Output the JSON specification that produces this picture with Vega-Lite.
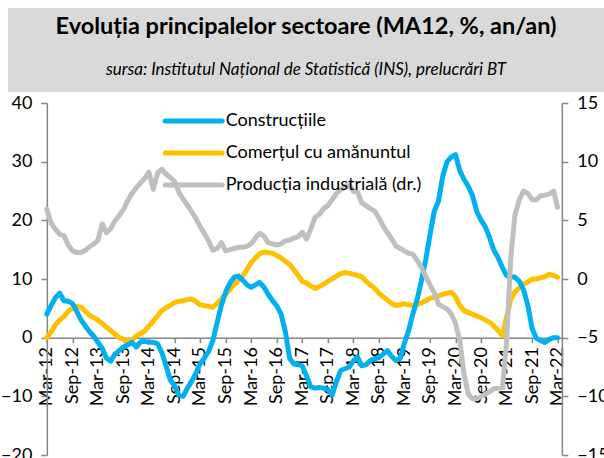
{
  "$schema": "https://vega.github.io/schema/vega-lite/v6.json",
  "padding": {"left": 0, "right": 0, "top": 8, "bottom": 0},
  "background": "white",
  "spacing": 2,
  "columns": 1,
  "center": true,
  "resolve": {"scale": {"color": "independent"}, "legend": {"color": "independent"}},
  "config": {
    "font": "Lato",
    "view": {"stroke": null},
    "axis": {
      "labelFont": "Lato",
      "labelFontSize": 18,
      "labelColor": "#000000",
      "domainColor": "#868686",
      "domainWidth": 1.5,
      "tickColor": "#868686",
      "tickWidth": 1.5,
      "tickSize": 6,
      "grid": false,
      "title": null
    },
    "axisX": {"labelOverlap": false, "labelSeparation": 0}
  },
  "datasets": {
    "t": [
      {"d": "2012/03/01", "c": 4.0, "r": 0.0, "i": 5.95},
      {"d": "2012/04/01", "c": 5.5, "r": 1.0, "i": 4.75},
      {"d": "2012/05/01", "c": 6.8, "r": 2.2, "i": 4.25},
      {"d": "2012/06/01", "c": 7.6, "r": 3.0, "i": 3.8},
      {"d": "2012/07/01", "c": 6.3, "r": 3.6, "i": 3.7},
      {"d": "2012/08/01", "c": 6.2, "r": 4.5, "i": 2.9},
      {"d": "2012/09/01", "c": 5.8, "r": 5.0, "i": 2.4},
      {"d": "2012/10/01", "c": 4.5, "r": 5.3, "i": 2.25},
      {"d": "2012/11/01", "c": 3.0, "r": 5.2, "i": 2.25},
      {"d": "2012/12/01", "c": 2.0, "r": 4.5, "i": 2.45},
      {"d": "2013/01/01", "c": 1.0, "r": 3.8, "i": 2.75},
      {"d": "2013/02/01", "c": 0.2, "r": 3.4, "i": 3.0},
      {"d": "2013/03/01", "c": -0.8, "r": 3.0, "i": 3.3},
      {"d": "2013/04/01", "c": -1.8, "r": 2.4, "i": 4.7},
      {"d": "2013/05/01", "c": -3.5, "r": 1.8, "i": 3.95},
      {"d": "2013/06/01", "c": -4.0, "r": 1.2, "i": 4.3},
      {"d": "2013/07/01", "c": -2.8, "r": 0.6, "i": 4.95},
      {"d": "2013/08/01", "c": -2.2, "r": 0.0, "i": 5.4},
      {"d": "2013/09/01", "c": -1.6, "r": -0.3, "i": 5.95},
      {"d": "2013/10/01", "c": -1.2, "r": -0.5, "i": 6.7},
      {"d": "2013/11/01", "c": -0.8, "r": -0.4, "i": 7.3},
      {"d": "2013/12/01", "c": -1.6, "r": 0.3, "i": 7.8},
      {"d": "2014/01/01", "c": -0.7, "r": 0.7, "i": 8.2},
      {"d": "2014/02/01", "c": -0.6, "r": 1.2, "i": 8.6},
      {"d": "2014/03/01", "c": -0.8, "r": 2.0, "i": 9.1},
      {"d": "2014/04/01", "c": -0.8, "r": 2.8, "i": 7.65},
      {"d": "2014/05/01", "c": -1.0, "r": 3.7, "i": 9.0},
      {"d": "2014/06/01", "c": -2.5, "r": 4.6, "i": 9.35},
      {"d": "2014/07/01", "c": -4.8, "r": 5.1, "i": 8.95},
      {"d": "2014/08/01", "c": -7.2, "r": 5.5, "i": 8.65},
      {"d": "2014/09/01", "c": -8.2, "r": 6.0, "i": 8.3},
      {"d": "2014/10/01", "c": -9.8, "r": 6.2, "i": 7.4},
      {"d": "2014/11/01", "c": -10.0, "r": 6.3, "i": 6.8},
      {"d": "2014/12/01", "c": -8.6, "r": 6.5, "i": 6.3},
      {"d": "2015/01/01", "c": -7.4, "r": 6.6, "i": 5.75},
      {"d": "2015/02/01", "c": -6.0, "r": 6.2, "i": 5.15},
      {"d": "2015/03/01", "c": -4.5, "r": 5.6, "i": 4.5},
      {"d": "2015/04/01", "c": -3.5, "r": 5.5, "i": 3.9},
      {"d": "2015/05/01", "c": -2.4, "r": 5.3, "i": 3.25},
      {"d": "2015/06/01", "c": -0.5, "r": 5.2, "i": 2.45},
      {"d": "2015/07/01", "c": 2.5, "r": 5.8, "i": 2.6},
      {"d": "2015/08/01", "c": 5.5, "r": 6.6, "i": 3.1},
      {"d": "2015/09/01", "c": 7.8, "r": 7.4, "i": 2.4},
      {"d": "2015/10/01", "c": 9.3, "r": 8.2, "i": 2.5},
      {"d": "2015/11/01", "c": 10.3, "r": 9.0, "i": 2.6},
      {"d": "2015/12/01", "c": 10.5, "r": 9.8, "i": 2.7},
      {"d": "2016/01/01", "c": 9.8, "r": 10.5, "i": 2.7},
      {"d": "2016/02/01", "c": 9.0, "r": 11.6, "i": 2.8},
      {"d": "2016/03/01", "c": 8.6, "r": 12.8, "i": 3.0},
      {"d": "2016/04/01", "c": 9.0, "r": 13.6, "i": 3.5},
      {"d": "2016/05/01", "c": 9.4, "r": 14.3, "i": 3.9},
      {"d": "2016/06/01", "c": 8.6, "r": 14.6, "i": 3.65},
      {"d": "2016/07/01", "c": 7.4, "r": 14.5, "i": 3.1},
      {"d": "2016/08/01", "c": 6.3, "r": 14.4, "i": 3.0},
      {"d": "2016/09/01", "c": 5.4, "r": 14.0, "i": 2.9},
      {"d": "2016/10/01", "c": 4.0, "r": 13.6, "i": 3.0},
      {"d": "2016/11/01", "c": 1.0, "r": 13.0, "i": 3.25},
      {"d": "2016/12/01", "c": -3.5, "r": 12.5, "i": 3.3},
      {"d": "2017/01/01", "c": -4.5, "r": 11.6, "i": 3.5},
      {"d": "2017/02/01", "c": -4.6, "r": 10.6, "i": 3.6},
      {"d": "2017/03/01", "c": -4.8, "r": 9.6, "i": 4.0},
      {"d": "2017/04/01", "c": -6.5, "r": 9.3, "i": 3.4},
      {"d": "2017/05/01", "c": -8.4, "r": 8.8, "i": 4.25},
      {"d": "2017/06/01", "c": -8.6, "r": 8.4, "i": 5.25},
      {"d": "2017/07/01", "c": -8.5, "r": 8.7, "i": 5.5},
      {"d": "2017/08/01", "c": -8.6, "r": 9.1, "i": 6.0},
      {"d": "2017/09/01", "c": -8.8, "r": 9.6, "i": 6.25},
      {"d": "2017/10/01", "c": -9.8, "r": 10.0, "i": 6.75},
      {"d": "2017/11/01", "c": -7.5, "r": 10.5, "i": 7.3},
      {"d": "2017/12/01", "c": -5.6, "r": 10.9, "i": 7.6},
      {"d": "2018/01/01", "c": -5.3, "r": 11.1, "i": 7.9},
      {"d": "2018/02/01", "c": -5.0, "r": 11.0, "i": 8.0},
      {"d": "2018/03/01", "c": -4.0, "r": 10.8, "i": 7.5},
      {"d": "2018/04/01", "c": -3.3, "r": 10.6, "i": 7.4},
      {"d": "2018/05/01", "c": -4.8, "r": 10.4, "i": 6.5},
      {"d": "2018/06/01", "c": -4.6, "r": 9.6, "i": 6.25},
      {"d": "2018/07/01", "c": -3.9, "r": 9.0, "i": 6.0},
      {"d": "2018/08/01", "c": -3.6, "r": 8.4, "i": 5.8},
      {"d": "2018/09/01", "c": -3.4, "r": 7.6, "i": 5.2},
      {"d": "2018/10/01", "c": -2.8, "r": 7.0, "i": 4.5},
      {"d": "2018/11/01", "c": -2.2, "r": 6.4, "i": 3.95},
      {"d": "2018/12/01", "c": -3.2, "r": 5.8, "i": 3.4},
      {"d": "2019/01/01", "c": -3.9, "r": 5.5, "i": 2.8},
      {"d": "2019/02/01", "c": -3.5, "r": 5.6, "i": 2.6},
      {"d": "2019/03/01", "c": -1.0, "r": 5.8, "i": 2.4},
      {"d": "2019/04/01", "c": 1.2, "r": 5.6, "i": 2.2},
      {"d": "2019/05/01", "c": 4.0, "r": 5.5, "i": 2.1},
      {"d": "2019/06/01", "c": 6.5, "r": 5.6, "i": 1.6},
      {"d": "2019/07/01", "c": 9.6, "r": 5.9, "i": 1.0},
      {"d": "2019/08/01", "c": 13.2, "r": 6.3, "i": 0.25},
      {"d": "2019/09/01", "c": 17.5, "r": 6.7, "i": -0.5},
      {"d": "2019/10/01", "c": 21.5, "r": 6.9, "i": -1.15},
      {"d": "2019/11/01", "c": 23.3, "r": 7.1, "i": -2.15},
      {"d": "2019/12/01", "c": 27.5, "r": 7.4, "i": -2.35},
      {"d": "2020/01/01", "c": 30.0, "r": 7.6, "i": -2.55},
      {"d": "2020/02/01", "c": 30.8, "r": 7.7, "i": -3.0},
      {"d": "2020/03/01", "c": 31.2, "r": 7.0, "i": -3.75},
      {"d": "2020/04/01", "c": 28.5, "r": 5.5, "i": -5.25},
      {"d": "2020/05/01", "c": 27.0, "r": 4.6, "i": -8.1},
      {"d": "2020/06/01", "c": 25.8, "r": 4.3, "i": -9.8},
      {"d": "2020/07/01", "c": 24.2, "r": 4.0, "i": -10.2},
      {"d": "2020/08/01", "c": 21.5, "r": 3.7, "i": -10.2},
      {"d": "2020/09/01", "c": 20.0, "r": 3.4, "i": -10.0},
      {"d": "2020/10/01", "c": 18.9, "r": 3.0, "i": -9.8},
      {"d": "2020/11/01", "c": 17.0, "r": 2.6, "i": -9.6},
      {"d": "2020/12/01", "c": 14.9, "r": 2.0, "i": -9.35},
      {"d": "2021/01/01", "c": 13.6, "r": 1.2, "i": -9.3},
      {"d": "2021/02/01", "c": 11.9, "r": 0.3, "i": -9.25},
      {"d": "2021/03/01", "c": 10.6, "r": 3.5, "i": -5.5},
      {"d": "2021/04/01", "c": 10.4, "r": 6.5, "i": 1.85},
      {"d": "2021/05/01", "c": 10.3, "r": 7.8, "i": 5.5},
      {"d": "2021/06/01", "c": 9.6, "r": 8.5, "i": 6.75},
      {"d": "2021/07/01", "c": 8.2, "r": 9.1, "i": 7.5},
      {"d": "2021/08/01", "c": 5.5, "r": 9.5, "i": 7.3},
      {"d": "2021/09/01", "c": 1.5, "r": 10.0, "i": 6.75},
      {"d": "2021/10/01", "c": -0.1, "r": 10.0, "i": 6.75},
      {"d": "2021/11/01", "c": -0.5, "r": 10.2, "i": 7.1},
      {"d": "2021/12/01", "c": -0.8, "r": 10.4, "i": 7.15},
      {"d": "2022/01/01", "c": -0.3, "r": 10.8, "i": 7.25},
      {"d": "2022/02/01", "c": 0.0, "r": 10.6, "i": 7.5},
      {"d": "2022/03/01", "c": 0.0, "r": 10.3, "i": 6.1}
    ]
  },
  "concat": [
    {
      "width": 639,
      "height": 84,
      "view": {"fill": "#d9d9d9", "stroke": null},
      "data": {"values": []},
      "mark": "point",
      "title": {
        "text": "Evoluția principalelor sectoare (MA12, %, an/an)",
        "subtitle": "sursa: Institutul Național de Statistică (INS), prelucrări BT",
        "font": "Lato",
        "fontSize": 23.5,
        "fontWeight": "bold",
        "color": "#000000",
        "subtitleFont": "Lato",
        "subtitleFontSize": 17,
        "subtitleFontStyle": "italic",
        "subtitleColor": "#000000",
        "subtitlePadding": 24,
        "anchor": "middle",
        "frame": "group",
        "dx": -21.5,
        "offset": -70
      }
    },
    {
      "width": 515,
      "height": 352,
      "data": {"name": "t"},
      "layer": [
        {
          "transform": [{"fold": ["r", "c"], "as": ["key", "val"]}],
          "mark": {"type": "line", "strokeWidth": 5, "strokeCap": "round", "strokeJoin": "round"},
          "encoding": {
            "x": {
              "field": "d",
              "type": "temporal",
              "scale": {"domain": [{"year": 2012, "month": 3, "date": 1}, {"year": 2022, "month": 4, "date": 1}]},
              "axis": {
                "values": [
                  {"year": 2012, "month": 3, "date": 1}, {"year": 2012, "month": 9, "date": 1},
                  {"year": 2013, "month": 3, "date": 1}, {"year": 2013, "month": 9, "date": 1},
                  {"year": 2014, "month": 3, "date": 1}, {"year": 2014, "month": 9, "date": 1},
                  {"year": 2015, "month": 3, "date": 1}, {"year": 2015, "month": 9, "date": 1},
                  {"year": 2016, "month": 3, "date": 1}, {"year": 2016, "month": 9, "date": 1},
                  {"year": 2017, "month": 3, "date": 1}, {"year": 2017, "month": 9, "date": 1},
                  {"year": 2018, "month": 3, "date": 1}, {"year": 2018, "month": 9, "date": 1},
                  {"year": 2019, "month": 3, "date": 1}, {"year": 2019, "month": 9, "date": 1},
                  {"year": 2020, "month": 3, "date": 1}, {"year": 2020, "month": 9, "date": 1},
                  {"year": 2021, "month": 3, "date": 1}, {"year": 2021, "month": 9, "date": 1},
                  {"year": 2022, "month": 3, "date": 1}
                ],
                "tickCount": 30,
                "format": "%b-%y",
                "labelAngle": 270,
                "labelAlign": "right",
                "labelBaseline": "middle",
                "labelPadding": 4,
                "tickSize": 5,
                "labelOverlap": false,
                "labelSeparation": 0,
                "labelFlush": false,
                "offset": -117.33
              }
            },
            "y": {
              "field": "val",
              "type": "quantitative",
              "scale": {"domain": [-20, 40], "nice": false, "zero": false},
              "axis": {"orient": "left", "values": [-20, -10, 0, 10, 20, 30, 40], "tickCount": 10, "labelFlush": false, "labelPadding": 9, "minExtent": 43}
            },
            "color": {
              "field": "key",
              "type": "nominal",
              "scale": {"domain": ["c", "r", "i"], "range": ["#00b0f0", "#ffc000", "#bfbfbf"]},
              "legend": {
                "orient": "none",
                "legendX": 137.8,
                "legendY": 9,
                "title": null,
                "padding": 0,
                "symbolType": "M-5,0H5",
                "symbolSize": 130,
                "symbolStrokeWidth": 5,
                "labelFont": "Lato",
                "labelFontSize": 18,
                "labelColor": "#000000",
                "labelOffset": 23,
                "labelLimit": 300,
                "rowPadding": 12,
                "labelExpr": "datum.value == 'c' ? 'Construcțiile' : datum.value == 'r' ? 'Comerțul cu amănuntul' : 'Producția industrială (dr.)'",
                "encode": {"symbols": {"update": {"strokeCap": {"value": "round"}, "fillOpacity": {"value": 0}}}}
              }
            }
          }
        },
        {
          "mark": {"type": "line", "strokeWidth": 5, "strokeCap": "round", "strokeJoin": "round"},
          "encoding": {
            "x": {"field": "d", "type": "temporal"},
            "y": {
              "field": "i",
              "type": "quantitative",
              "scale": {"domain": [-15, 15], "nice": false, "zero": false},
              "axis": {"orient": "right", "values": [-15, -10, -5, 0, 5, 10, 15], "tickCount": 10, "labelFlush": false, "labelPadding": 9, "minExtent": 46}
            },
            "color": {"datum": "i"}
          }
        }
      ],
      "resolve": {"scale": {"y": "independent"}}
    }
  ]
}
